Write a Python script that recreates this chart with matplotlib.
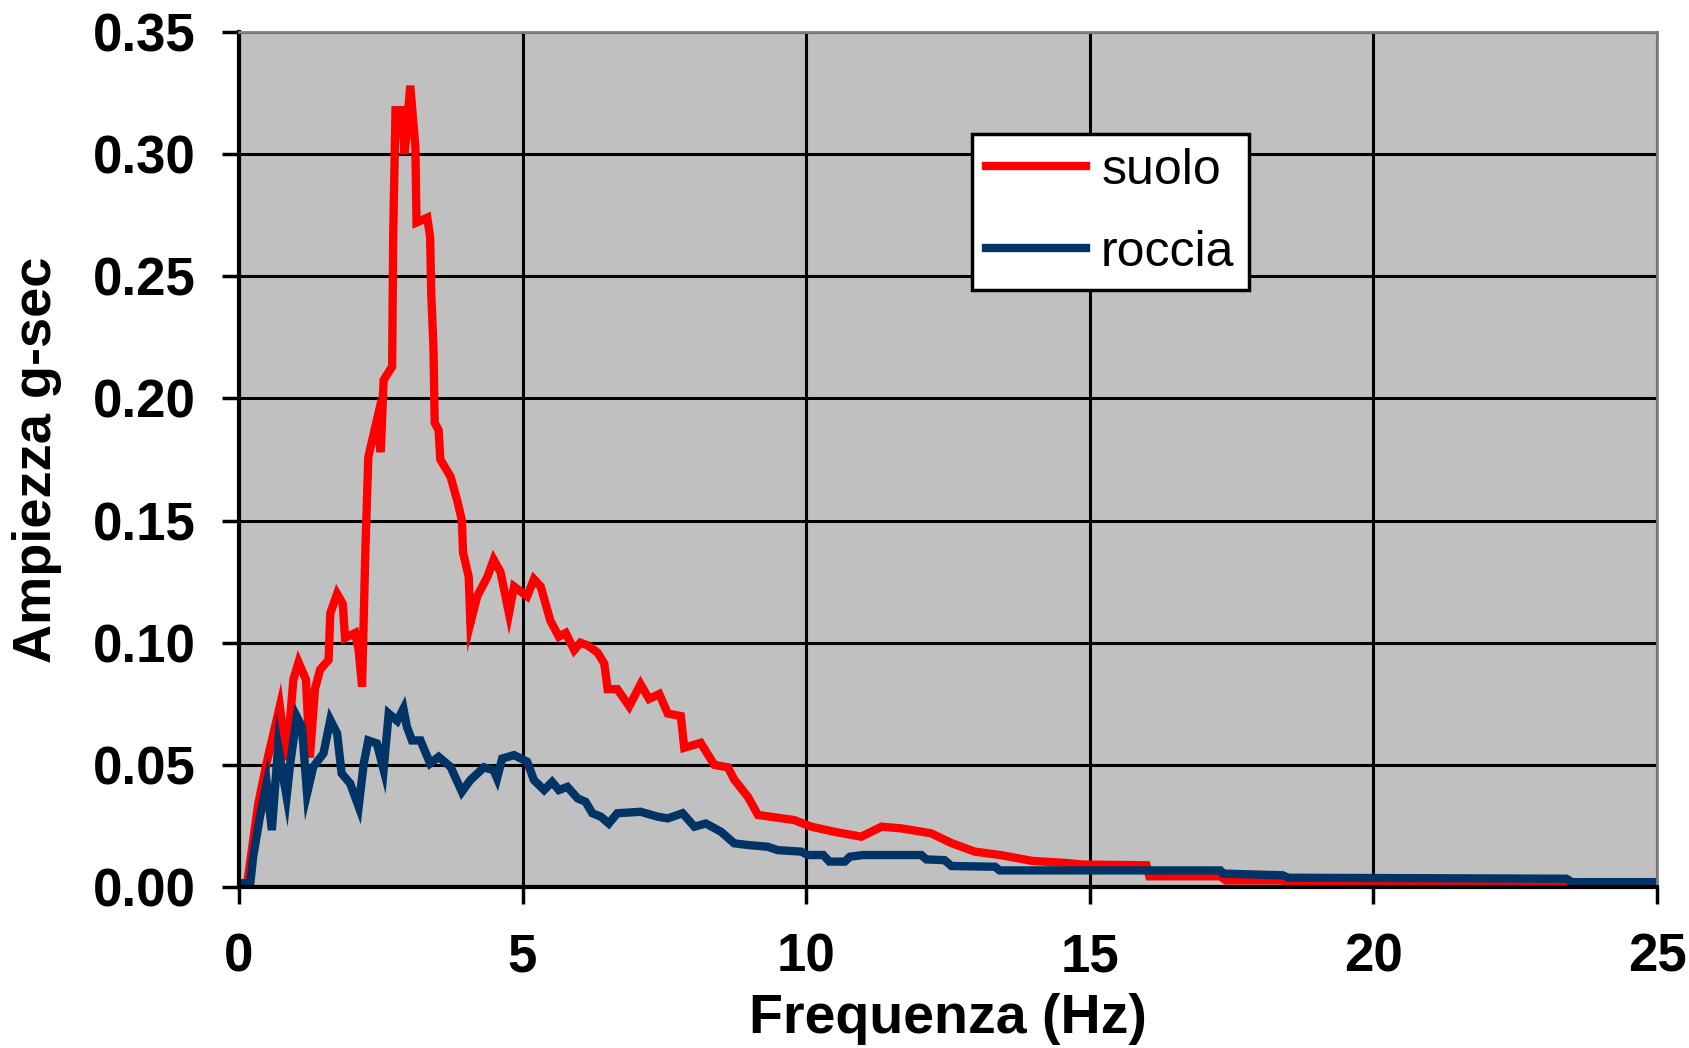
import matplotlib
matplotlib.use("Agg")
import matplotlib.pyplot as plt

# spectrum "suolo" (soil)
suolo_freq = [0.0, 0.15, 0.22, 0.34, 0.49, 0.72, 0.84, 0.96, 1.05, 1.18, 1.25, 1.34, 1.43, 1.58,
              1.61, 1.73, 1.83, 1.87, 2.05, 2.11, 2.17, 2.23, 2.28, 2.43, 2.50, 2.55, 2.70, 2.72,
              2.76, 2.87, 2.92, 3.02, 3.11, 3.13, 3.32, 3.37, 3.39, 3.43, 3.45, 3.52, 3.55, 3.73,
              3.85, 3.93, 3.95, 4.05, 4.08, 4.20, 4.38, 4.49, 4.61, 4.76, 4.85, 5.08, 5.20, 5.32,
              5.49, 5.64, 5.76, 5.91, 6.02, 6.14, 6.32, 6.44, 6.50, 6.67, 6.88, 7.08, 7.23, 7.41,
              7.56, 7.79, 7.85, 8.14, 8.38, 8.62, 8.73, 8.97, 9.15, 9.79, 10.09, 10.5, 10.97,
              11.33, 11.68, 12.2, 12.56, 12.97, 13.45, 13.98, 14.55, 14.88, 16.0, 16.05, 17.3,
              17.4, 18.4, 18.6, 25.0]
suolo_amp = [0.001, 0.002, 0.014, 0.034, 0.051, 0.074, 0.052, 0.085, 0.092, 0.085, 0.053, 0.081,
             0.089, 0.093, 0.112, 0.120, 0.116, 0.102, 0.104, 0.097, 0.082, 0.139, 0.176, 0.191,
             0.178, 0.2075, 0.213, 0.268, 0.318, 0.318, 0.300, 0.328, 0.303, 0.272, 0.274, 0.266,
             0.243, 0.220, 0.190, 0.187, 0.175, 0.168, 0.158, 0.150, 0.137, 0.127, 0.108, 0.119,
             0.127, 0.134, 0.129, 0.112, 0.123, 0.119, 0.126, 0.123, 0.109, 0.1025, 0.104, 0.097,
             0.100, 0.099, 0.096, 0.0915, 0.081, 0.081, 0.074, 0.083, 0.077, 0.079, 0.071, 0.070,
             0.057, 0.059, 0.050, 0.049, 0.044, 0.037, 0.0295, 0.0274, 0.0247, 0.0226, 0.0206,
             0.0247, 0.024, 0.022, 0.018, 0.0145, 0.013, 0.0107, 0.0099, 0.0092, 0.0089, 0.0044,
             0.0044, 0.0027, 0.0027, 0.0011, 0.0011]

# spectrum "roccia" (rock)
roccia_freq = [0.0, 0.2, 0.25, 0.37, 0.49, 0.58, 0.69, 0.84, 0.90, 1.02, 1.11, 1.20, 1.31, 1.49,
               1.61, 1.73, 1.81, 1.96, 2.11, 2.20, 2.28, 2.43, 2.55, 2.64, 2.79, 2.90, 2.96, 3.05,
               3.20, 3.37, 3.52, 3.73, 3.93, 4.08, 4.32, 4.49, 4.55, 4.64, 4.85, 5.08, 5.20, 5.38,
               5.52, 5.64, 5.79, 5.97, 6.11, 6.23, 6.38, 6.52, 6.67, 7.08, 7.38, 7.56, 7.82, 8.03,
               8.23, 8.5, 8.73, 8.97, 9.32, 9.5, 9.91, 10.03, 10.3, 10.41, 10.68, 10.77, 11.0,
               12.03, 12.12, 12.44, 12.56, 13.33, 13.41, 17.3, 17.35, 18.4, 18.5, 23.4, 23.5, 25.0]
roccia_amp = [0.0015, 0.0015, 0.0124, 0.0288, 0.0424, 0.0233, 0.0574, 0.037, 0.050, 0.0697,
              0.0656, 0.0383, 0.0492, 0.0547, 0.0684, 0.0629, 0.0465, 0.0424, 0.0329, 0.0506,
              0.060, 0.0588, 0.048, 0.071, 0.068, 0.073, 0.0656, 0.060, 0.060, 0.0506, 0.0533,
              0.0492, 0.039, 0.0438, 0.049, 0.0478, 0.0445, 0.0526, 0.054, 0.0513, 0.0438, 0.0397,
              0.043, 0.0397, 0.041, 0.0363, 0.0349, 0.0302, 0.0288, 0.026, 0.0302, 0.0308, 0.0288,
              0.0281, 0.0302, 0.0247, 0.026, 0.0226, 0.0179, 0.0172, 0.0165, 0.0151, 0.0145,
              0.0131, 0.0131, 0.0104, 0.0104, 0.0124, 0.0131, 0.0131, 0.0113, 0.011, 0.0086,
              0.0083, 0.0068, 0.0068, 0.0055, 0.0048, 0.0038, 0.0034, 0.002, 0.002]

x_ticks = [0, 5, 10, 15, 20, 25]
y_ticks = [0.00, 0.05, 0.10, 0.15, 0.20, 0.25, 0.30, 0.35]

fig = plt.figure(figsize=(16.9, 10.48), dpi=100)
ax = fig.add_axes([0.1414, 0.1536, 0.8391, 0.8159])
ax.set_facecolor("#C0C0C0")

ax.plot(suolo_freq, suolo_amp, color="#FF0000", lw=6, label="suolo", solid_joinstyle="miter")
ax.plot(roccia_freq, roccia_amp, color="#003366", lw=6, label="roccia", solid_joinstyle="miter")

ax.set_xlim(0, 25)
ax.set_ylim(0, 0.35)
ax.set_xticks(x_ticks)
ax.set_yticks(y_ticks)
ax.set_yticklabels(["%.2f" % v for v in y_ticks])
ax.grid(True, color="black", lw=2.2)
ax.set_axisbelow(True)

for side in ["left", "bottom"]:
    ax.spines[side].set_color("black")
    ax.spines[side].set_linewidth(3)
for side in ["top", "right"]:
    ax.spines[side].set_color("#808080")
    ax.spines[side].set_linewidth(2)

ax.tick_params(direction="out", length=12, width=2.5)
ax.tick_params(axis="y", pad=19)
ax.tick_params(axis="x", pad=21)
for lab in ax.get_xticklabels() + ax.get_yticklabels():
    lab.set_fontfamily("Liberation Sans")
    lab.set_fontweight("bold")
    lab.set_fontsize(38)

ax.set_xlabel("Frequenza (Hz)", fontsize=40, fontweight="bold", family="Liberation Sans", labelpad=7)
ax.set_ylabel("Ampiezza g-sec", fontsize=39, fontweight="bold", family="Liberation Sans", labelpad=22)

leg = ax.legend(loc="upper left", bbox_to_anchor=(0.517, 0.881), borderaxespad=0, fancybox=False,
                framealpha=1, edgecolor="black", handlelength=2.0, handletextpad=0.3,
                borderpad=0.28, labelspacing=0.72, prop={"family": "Liberation Sans", "size": 36})
leg.get_frame().set_linewidth(2.5)
for line in leg.get_lines():
    line.set_linewidth(6)

fig.savefig("out.png", dpi=100)
